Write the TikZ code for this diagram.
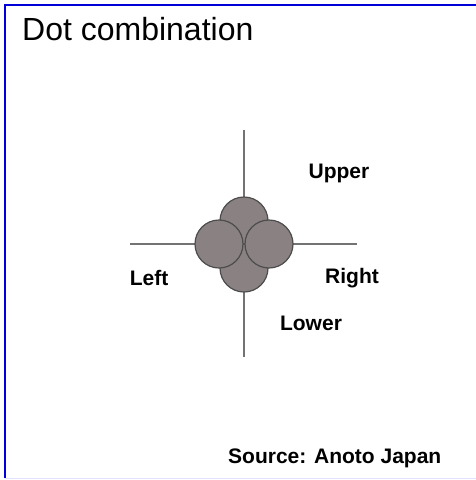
\documentclass[tikz,border=0pt]{standalone}
\usepackage{fontspec}
\setmainfont{Liberation Sans}
\begin{document}
\begin{tikzpicture}[x=1pt,y=-1pt,
  dot/.style={circle,draw=black!70,line width=1.2pt,fill=dotgray,minimum size=48pt,inner sep=0pt},
  axis/.style={draw=black!55,line width=2pt},
  lbl/.style={font=\fontsize{21}{24}\selectfont\bfseries,inner sep=0pt},
  frameblue/.style={draw=blue!85!black,line width=1.8pt}]
\definecolor{dotgray}{HTML}{8A8282}
\useasboundingbox (0,0) rectangle (476,480);
\fill[white] (0,0) rectangle (476,480);
% frame
\coordinate (fb) at (5,478);
\coordinate (ft) at (5,5);
\coordinate (fr) at (476,5);
\draw[frameblue] (fb) -- (ft) -- (fr);
\coordinate (bl) at (5,478.5);
\coordinate (br) at (476,478.5);
\draw[draw=blue!12,line width=1.2pt] (bl) -- (br);
% title
\node[anchor=base west,inner sep=0pt,font=\fontsize{32}{35}\selectfont] (title) at (22,40) {Dot combination};
% axes
\coordinate (vt) at (244,130);
\coordinate (vb) at (244,357);
\coordinate (hl) at (130,244);
\coordinate (hr) at (357,244);
\draw[axis] (vt) -- (vb);
\draw[axis] (hl) -- (hr);
% dots
\node[dot] (up) at (244,221) {};
\node[dot] (lo) at (244,268) {};
\node[dot] (le) at (219,244) {};
\node[dot] (ri) at (269,244) {};
% labels
\node[lbl] (lu) at (339,173) {Upper};
\node[lbl] (ll) at (149,278) {Left};
\node[lbl] (lr) at (352,278) {Right};
\node[lbl] (llo) at (311,323) {Lower};
\node[anchor=base west,inner sep=0pt,font=\fontsize{21}{24}\selectfont\bfseries] (src) at (228,463) {Source: Anoto Japan};
\end{tikzpicture}
\end{document}
